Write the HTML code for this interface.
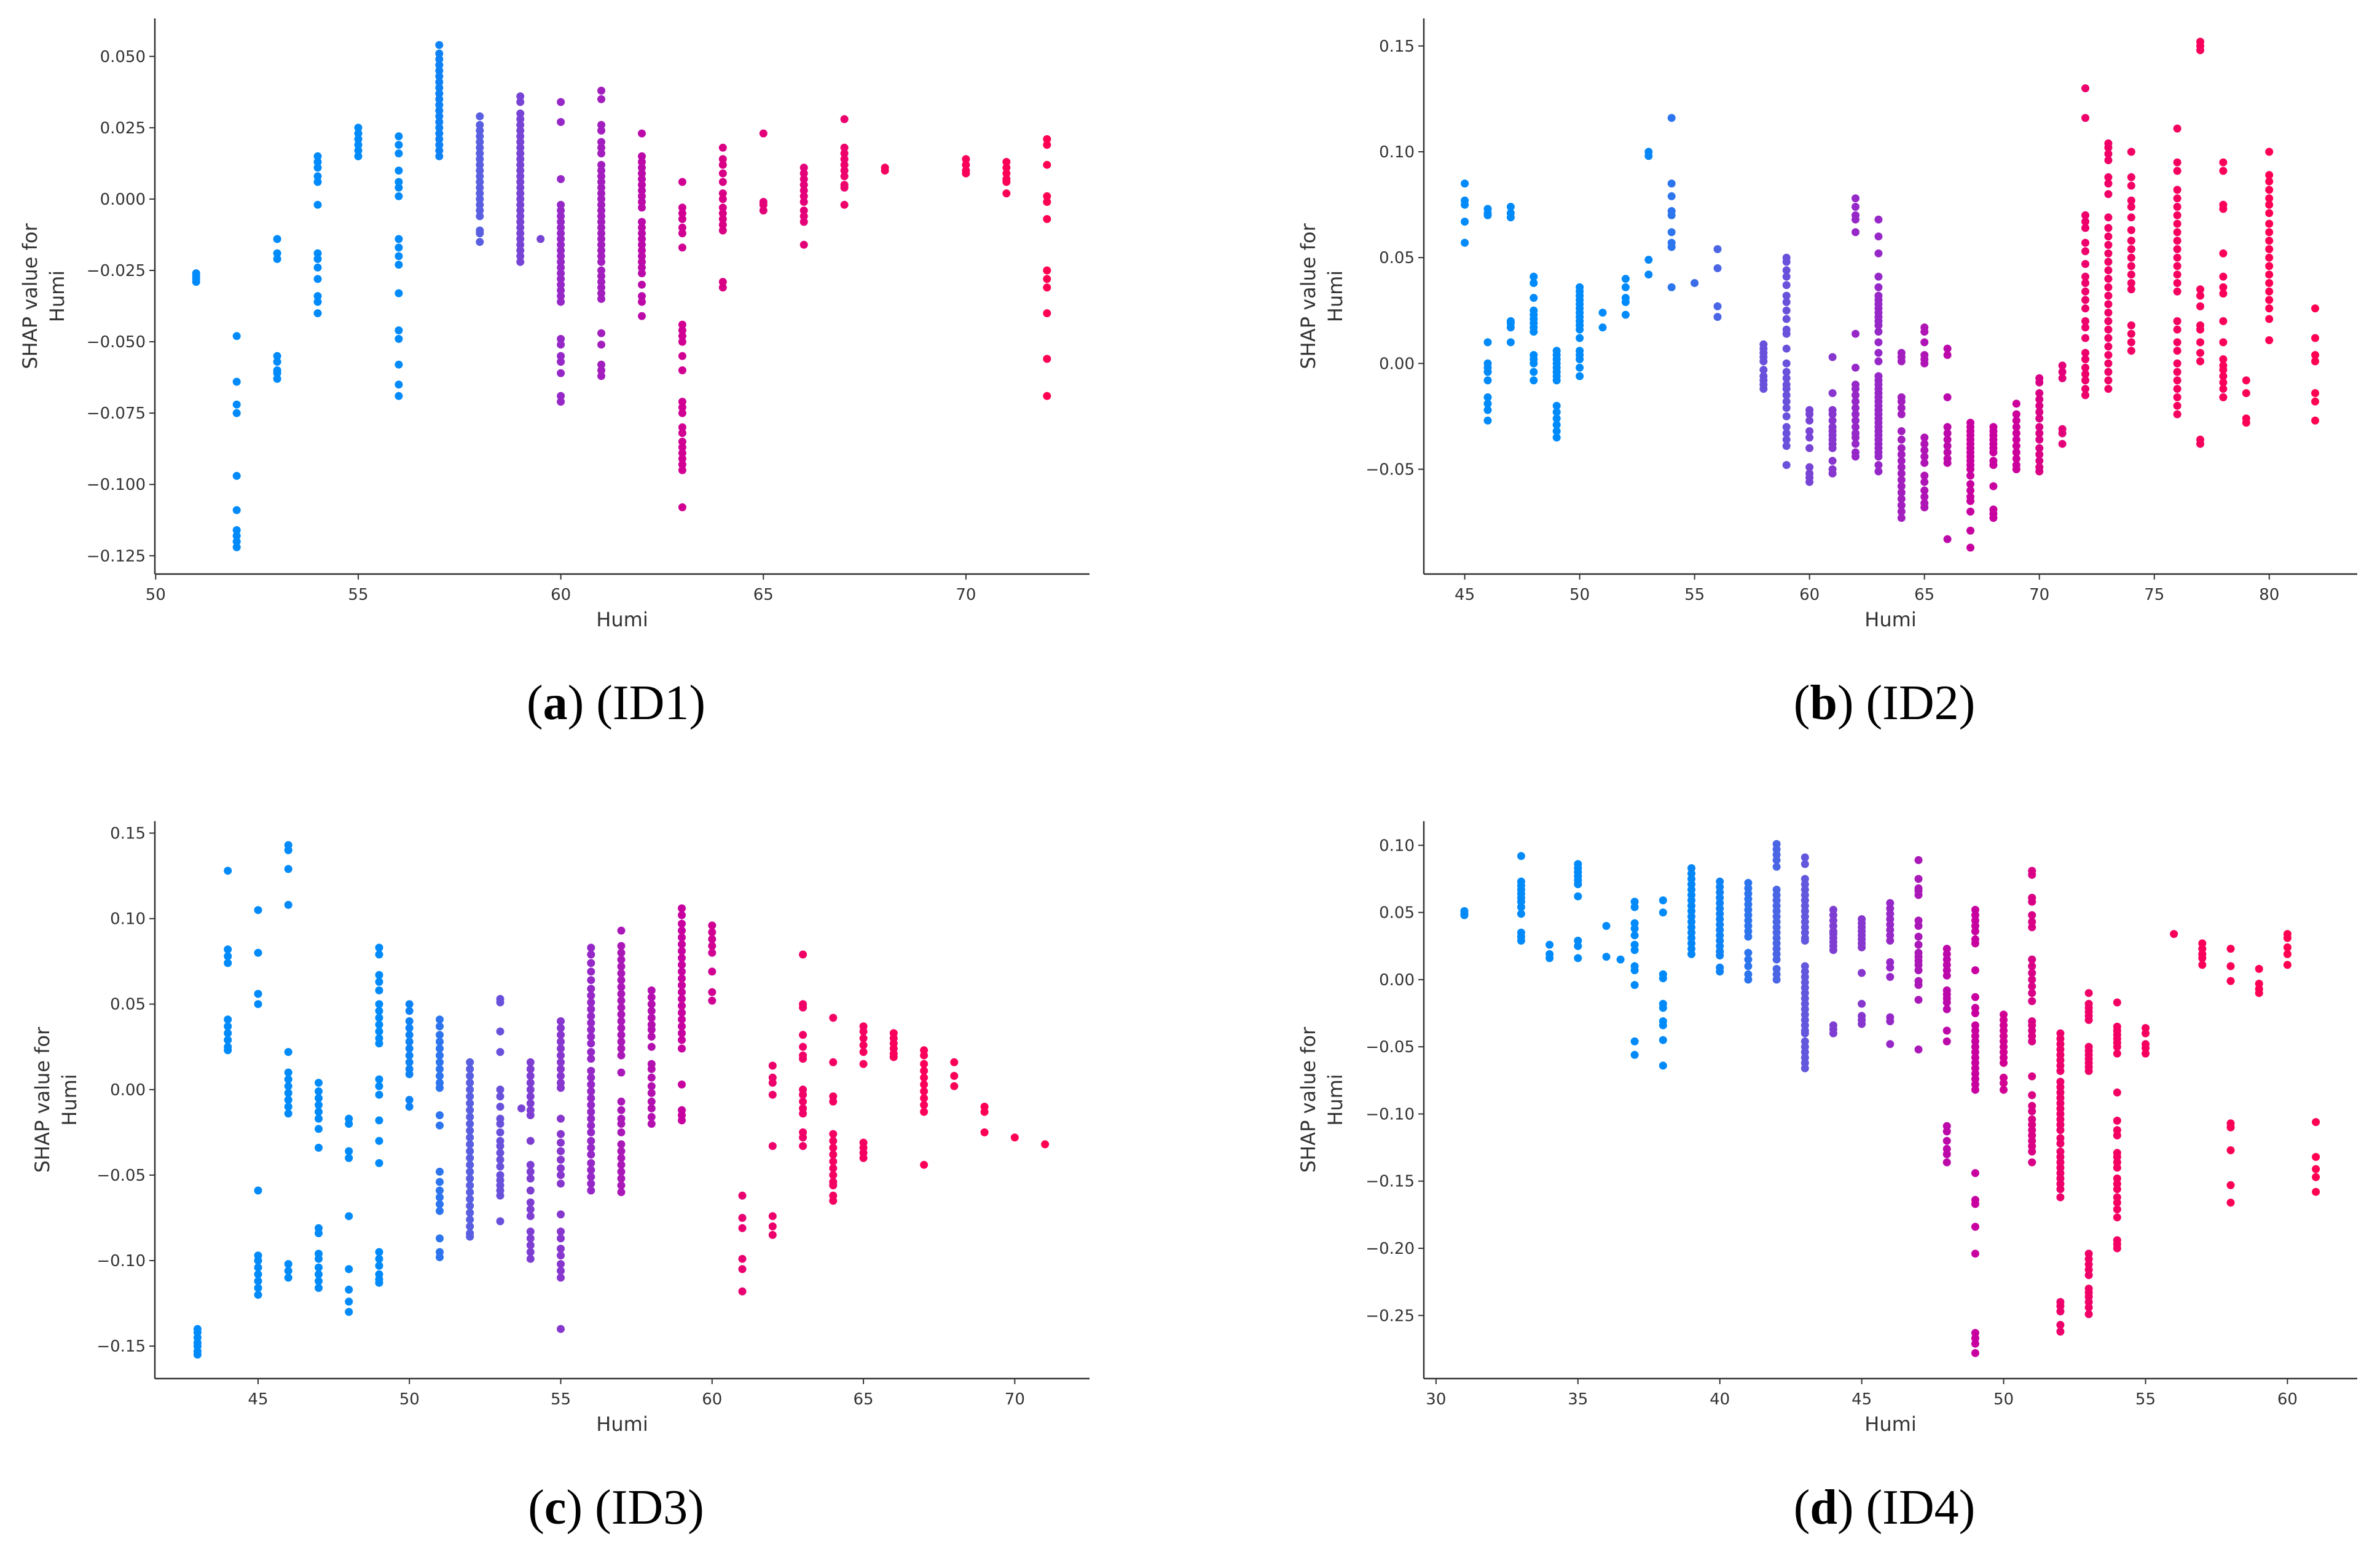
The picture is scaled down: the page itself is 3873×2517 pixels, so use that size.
<!DOCTYPE html>
<html><head><meta charset="utf-8">
<style>
html,body{margin:0;padding:0;background:#fff;}
svg{display:block;}
</style></head>
<body>
<svg id="root" width="3873" height="2517" viewBox="0 0 3873 2517" xmlns="http://www.w3.org/2000/svg"></svg>
<script>
// ---------- Panel (a) ID1 ----------
const xCats_a = [51,52,53,54,55,56,57,58,59,59.5,60,61,62,63,64,65,66,67,68,70,71,72];
const color_a = [0,0,0,0,0,0,0.05,0.3,0.4,0.4,0.5,0.55,0.65,0.75,0.8,0.85,0.85,0.9,0.95,0.97,0.98,1];
const yVals_a = [
[-0.026,-0.027,-0.028,-0.029],
[-0.048,-0.064,-0.072,-0.075,-0.097,-0.109,-0.116,-0.118,-0.120,-0.122],
[-0.014,-0.019,-0.021,-0.055,-0.057,-0.060,-0.061,-0.063],
[0.015,0.013,0.011,0.008,0.006,-0.002,-0.019,-0.021,-0.024,-0.028,-0.034,-0.036,-0.040],
[0.025,0.023,0.021,0.019,0.017,0.015],
[0.022,0.019,0.016,0.010,0.006,0.004,0.001,-0.014,-0.017,-0.020,-0.023,-0.033,-0.046,-0.049,-0.058,-0.065,-0.069],
[0.054,0.051,0.049,0.047,0.045,0.043,0.041,0.039,0.037,0.035,0.033,0.031,0.029,0.027,0.025,0.023,0.021,0.019,0.017,0.015],
[0.029,0.026,0.024,0.022,0.020,0.018,0.016,0.014,0.012,0.010,0.008,0.006,0.004,0.002,0.000,-0.002,-0.004,-0.006,-0.011,-0.012,-0.015],
[0.036,0.034,0.030,0.028,0.026,0.024,0.022,0.020,0.018,0.016,0.014,0.012,0.010,0.008,0.006,0.004,0.002,0.000,-0.002,-0.004,-0.006,-0.008,-0.010,-0.012,-0.014,-0.016,-0.018,-0.020,-0.022],
[-0.014],
[0.034,0.027,0.007,-0.002,-0.004,-0.006,-0.008,-0.010,-0.012,-0.014,-0.016,-0.018,-0.020,-0.022,-0.024,-0.026,-0.028,-0.030,-0.032,-0.034,-0.036,-0.049,-0.051,-0.055,-0.057,-0.061,-0.069,-0.071],
[0.038,0.035,0.026,0.024,0.020,0.018,0.016,0.012,0.010,0.008,0.006,0.004,0.002,0.000,-0.002,-0.004,-0.006,-0.008,-0.010,-0.012,-0.014,-0.016,-0.018,-0.020,-0.022,-0.025,-0.027,-0.029,-0.031,-0.033,-0.035,-0.047,-0.051,-0.058,-0.060,-0.062],
[0.023,0.015,0.013,0.011,0.009,0.007,0.005,0.003,0.001,-0.001,-0.003,-0.008,-0.010,-0.012,-0.014,-0.016,-0.018,-0.020,-0.022,-0.024,-0.026,-0.030,-0.034,-0.036,-0.041],
[0.006,-0.003,-0.005,-0.007,-0.010,-0.012,-0.017,-0.044,-0.046,-0.048,-0.050,-0.055,-0.060,-0.071,-0.073,-0.075,-0.080,-0.082,-0.085,-0.087,-0.089,-0.091,-0.093,-0.095,-0.108],
[0.018,0.014,0.012,0.009,0.006,0.002,0.000,-0.003,-0.005,-0.007,-0.009,-0.011,-0.029,-0.031],
[0.023,-0.001,-0.002,-0.004],
[0.011,0.009,0.007,0.005,0.003,0.001,-0.001,-0.004,-0.006,-0.008,-0.016],
[0.028,0.018,0.016,0.014,0.012,0.010,0.008,0.005,0.004,-0.002],
[0.011,0.010],
[0.014,0.012,0.010,0.009],
[0.013,0.011,0.009,0.007,0.006,0.002],
[0.021,0.019,0.012,0.001,-0.001,-0.007,-0.025,-0.028,-0.031,-0.040,-0.056,-0.069]
];
const xTicks_a = [50,55,60,65,70];
const yTicks_a = [0.050,0.025,0.000,-0.025,-0.050,-0.075,-0.100,-0.125];
const yTickLabels_a = ["0.050","0.025","0.000","\u22120.025","\u22120.050","\u22120.075","\u22120.100","\u22120.125"];

// ---------- Panel (b) ID2 ----------
const xCats_b = [45,46,47,48,49,50,51,52,53,54,55,56,58,59,60,61,62,63,64,65,66,67,68,69,70,71,72,73,74,76,77,78,79,80,82];
const color_b = [0,0,0,0,0,0,0,0,0.02,0.15,0.2,0.25,0.35,0.35,0.4,0.45,0.5,0.5,0.55,0.6,0.65,0.7,0.7,0.72,0.8,0.85,0.9,0.92,0.93,0.95,0.96,0.97,0.98,0.99,1];
const yVals_b = [
[0.085,0.077,0.075,0.067,0.057],
[0.073,0.071,0.070,0.010,0.000,-0.002,-0.004,-0.008,-0.016,-0.019,-0.022,-0.027],
[0.074,0.071,0.069,0.020,0.019,0.017,0.010],
[0.041,0.038,0.031,0.025,0.023,0.021,0.019,0.017,0.015,0.004,0.002,0.000,-0.004,-0.008],
[0.006,0.004,0.002,0.000,-0.002,-0.004,-0.006,-0.008,-0.020,-0.023,-0.026,-0.029,-0.032,-0.035],
[0.036,0.034,0.032,0.030,0.028,0.026,0.024,0.022,0.020,0.018,0.016,0.012,0.006,0.004,0.002,-0.002,-0.006],
[0.024,0.017],
[0.040,0.036,0.031,0.029,0.023],
[0.100,0.098,0.049,0.042],
[0.116,0.085,0.079,0.072,0.070,0.062,0.057,0.055,0.036],
[0.038],
[0.054,0.045,0.027,0.022],
[0.009,0.007,0.005,0.003,0.001,-0.003,-0.006,-0.008,-0.010,-0.012],
[0.050,0.048,0.044,0.041,0.037,0.032,0.029,0.025,0.021,0.016,0.014,0.007,0.000,-0.004,-0.007,-0.010,-0.012,-0.015,-0.018,-0.021,-0.025,-0.030,-0.033,-0.036,-0.039,-0.048],
[-0.022,-0.024,-0.027,-0.032,-0.035,-0.040,-0.049,-0.052,-0.054,-0.056],
[0.003,-0.014,-0.022,-0.024,-0.027,-0.030,-0.032,-0.034,-0.036,-0.038,-0.040,-0.046,-0.050,-0.052],
[0.078,0.074,0.070,0.068,0.062,0.014,-0.002,-0.010,-0.012,-0.015,-0.018,-0.021,-0.024,-0.027,-0.030,-0.033,-0.035,-0.038,-0.042,-0.044],
[0.068,0.060,0.052,0.041,0.036,0.032,0.030,0.028,0.026,0.024,0.022,0.020,0.018,0.015,0.010,0.005,0.001,-0.006,-0.008,-0.010,-0.012,-0.014,-0.016,-0.018,-0.020,-0.022,-0.024,-0.026,-0.028,-0.030,-0.032,-0.034,-0.036,-0.038,-0.040,-0.042,-0.044,-0.048,-0.051],
[0.005,0.003,0.001,-0.016,-0.018,-0.021,-0.024,-0.032,-0.036,-0.040,-0.043,-0.046,-0.049,-0.052,-0.055,-0.058,-0.061,-0.064,-0.067,-0.070,-0.073],
[0.017,0.015,0.010,0.004,0.002,0.000,-0.035,-0.038,-0.041,-0.044,-0.047,-0.053,-0.056,-0.060,-0.063,-0.066,-0.068],
[0.007,0.004,-0.016,-0.030,-0.033,-0.036,-0.039,-0.042,-0.045,-0.047,-0.083],
[-0.028,-0.030,-0.032,-0.034,-0.036,-0.038,-0.040,-0.042,-0.044,-0.046,-0.048,-0.050,-0.053,-0.057,-0.060,-0.063,-0.065,-0.070,-0.079,-0.087],
[-0.030,-0.032,-0.034,-0.036,-0.038,-0.040,-0.042,-0.046,-0.048,-0.058,-0.069,-0.071,-0.073],
[-0.019,-0.024,-0.027,-0.030,-0.033,-0.036,-0.039,-0.042,-0.045,-0.048,-0.050],
[-0.007,-0.009,-0.014,-0.017,-0.020,-0.023,-0.026,-0.030,-0.033,-0.036,-0.040,-0.043,-0.046,-0.049,-0.051],
[-0.001,-0.004,-0.007,-0.031,-0.033,-0.038],
[0.130,0.116,0.070,0.067,0.064,0.057,0.053,0.047,0.041,0.038,0.034,0.030,0.026,0.020,0.017,0.012,0.005,0.002,-0.002,-0.005,-0.008,-0.012,-0.015],
[0.104,0.102,0.099,0.096,0.088,0.085,0.080,0.069,0.064,0.060,0.056,0.052,0.048,0.044,0.040,0.036,0.032,0.028,0.024,0.020,0.016,0.012,0.008,0.004,0.000,-0.004,-0.008,-0.012],
[0.100,0.088,0.084,0.077,0.074,0.069,0.063,0.058,0.054,0.050,0.046,0.042,0.038,0.035,0.018,0.014,0.010,0.006],
[0.111,0.095,0.091,0.082,0.078,0.074,0.070,0.066,0.062,0.058,0.054,0.050,0.046,0.042,0.038,0.034,0.020,0.016,0.010,0.006,0.000,-0.004,-0.008,-0.012,-0.016,-0.020,-0.024],
[0.152,0.150,0.148,0.035,0.032,0.027,0.018,0.016,0.010,0.005,0.001,-0.036,-0.038],
[0.095,0.091,0.075,0.073,0.052,0.041,0.036,0.033,0.020,0.010,0.002,-0.001,-0.003,-0.006,-0.009,-0.012,-0.016],
[-0.008,-0.014,-0.026,-0.028],
[0.100,0.089,0.086,0.082,0.078,0.075,0.071,0.066,0.062,0.058,0.054,0.050,0.046,0.042,0.038,0.034,0.030,0.026,0.021,0.011],
[0.026,0.012,0.004,0.001,-0.014,-0.018,-0.027]
];
const xTicks_b = [45,50,55,60,65,70,75,80];
const yTicks_b = [0.15,0.10,0.05,0.00,-0.05];
const yTickLabels_b = ["0.15","0.10","0.05","0.00","\u22120.05"];

// ---------- Panel (c) ID3 ----------
const xCats_c = [43,44,45,46,47,48,49,50,51,52,53,53.7,54,55,56,57,58,59,60,61,62,63,64,65,66,67,68,69,70,71];
const color_c = [0,0,0,0,0,0,0,0.05,0.15,0.3,0.35,0.4,0.42,0.45,0.5,0.58,0.62,0.7,0.75,0.88,0.9,0.92,0.94,0.95,0.96,0.97,0.98,0.99,1,1];
const yVals_c = [
[-0.140,-0.142,-0.145,-0.148,-0.150,-0.153,-0.155],
[0.128,0.082,0.078,0.074,0.041,0.037,0.033,0.029,0.025,0.023],
[0.105,0.080,0.056,0.050,-0.059,-0.097,-0.100,-0.104,-0.108,-0.112,-0.116,-0.120],
[0.143,0.140,0.129,0.108,0.022,0.010,0.006,0.002,-0.002,-0.006,-0.010,-0.014,-0.102,-0.106,-0.110],
[0.004,-0.001,-0.005,-0.009,-0.013,-0.017,-0.023,-0.034,-0.081,-0.084,-0.096,-0.099,-0.104,-0.108,-0.112,-0.116],
[-0.017,-0.020,-0.036,-0.040,-0.074,-0.105,-0.117,-0.124,-0.130],
[0.083,0.079,0.067,0.063,0.058,0.050,0.046,0.042,0.038,0.034,0.030,0.027,0.006,0.002,-0.003,-0.018,-0.030,-0.043,-0.095,-0.099,-0.103,-0.108,-0.111,-0.113],
[0.050,0.046,0.040,0.036,0.032,0.028,0.024,0.020,0.016,0.012,0.009,-0.006,-0.010],
[0.041,0.037,0.032,0.028,0.024,0.020,0.016,0.012,0.008,0.004,0.001,-0.015,-0.021,-0.048,-0.054,-0.059,-0.063,-0.067,-0.071,-0.087,-0.095,-0.098],
[0.016,0.012,0.008,0.004,0.000,-0.004,-0.008,-0.012,-0.016,-0.020,-0.024,-0.028,-0.032,-0.036,-0.040,-0.044,-0.048,-0.052,-0.056,-0.060,-0.064,-0.068,-0.072,-0.076,-0.080,-0.084,-0.086],
[0.053,0.051,0.034,0.022,0.000,-0.004,-0.010,-0.017,-0.020,-0.025,-0.030,-0.033,-0.037,-0.041,-0.045,-0.050,-0.053,-0.056,-0.059,-0.062,-0.077],
[-0.011],
[0.016,0.012,0.008,0.004,0.000,-0.004,-0.008,-0.012,-0.015,-0.030,-0.044,-0.048,-0.052,-0.059,-0.066,-0.070,-0.074,-0.083,-0.087,-0.091,-0.095,-0.099],
[0.040,0.036,0.032,0.028,0.024,0.020,0.016,0.012,0.008,0.004,0.001,-0.017,-0.026,-0.031,-0.036,-0.041,-0.046,-0.050,-0.055,-0.073,-0.083,-0.087,-0.093,-0.097,-0.102,-0.106,-0.110,-0.140],
[0.083,0.079,0.074,0.069,0.064,0.059,0.055,0.051,0.047,0.043,0.039,0.035,0.031,0.027,0.022,0.018,0.011,0.007,0.003,-0.001,-0.005,-0.009,-0.013,-0.017,-0.021,-0.025,-0.030,-0.034,-0.038,-0.043,-0.047,-0.051,-0.055,-0.059],
[0.093,0.084,0.080,0.076,0.072,0.068,0.064,0.060,0.056,0.052,0.048,0.044,0.040,0.036,0.032,0.028,0.024,0.020,0.010,-0.007,-0.012,-0.017,-0.020,-0.025,-0.032,-0.036,-0.040,-0.044,-0.048,-0.052,-0.056,-0.060],
[0.058,0.054,0.050,0.046,0.042,0.038,0.035,0.031,0.025,0.015,0.012,0.007,0.002,-0.002,-0.007,-0.011,-0.016,-0.020],
[0.106,0.102,0.097,0.093,0.089,0.085,0.081,0.077,0.073,0.069,0.065,0.061,0.057,0.053,0.049,0.045,0.041,0.037,0.033,0.029,0.024,0.003,-0.012,-0.015,-0.018],
[0.096,0.092,0.088,0.084,0.080,0.069,0.057,0.052],
[-0.062,-0.075,-0.081,-0.099,-0.105,-0.118],
[0.014,0.007,0.004,-0.003,-0.033,-0.074,-0.080,-0.085],
[0.079,0.050,0.048,0.032,0.025,0.020,0.018,0.000,-0.003,-0.007,-0.011,-0.014,-0.025,-0.028,-0.033],
[0.042,0.016,-0.004,-0.007,-0.026,-0.030,-0.034,-0.038,-0.042,-0.046,-0.050,-0.054,-0.056,-0.062,-0.065],
[0.037,0.034,0.030,0.026,0.022,0.015,-0.031,-0.034,-0.037,-0.040],
[0.033,0.030,0.027,0.024,0.021,0.019],
[0.023,0.020,0.015,0.011,0.007,0.003,-0.001,-0.005,-0.009,-0.013,-0.044],
[0.016,0.008,0.002],
[-0.010,-0.013,-0.025],
[-0.028],
[-0.032]
];
const xTicks_c = [45,50,55,60,65,70];
const yTicks_c = [0.15,0.10,0.05,0.00,-0.05,-0.10,-0.15];
const yTickLabels_c = ["0.15","0.10","0.05","0.00","\u22120.05","\u22120.10","\u22120.15"];

// ---------- Panel (d) ID4 ----------
const xCats_d = [31,33,34,35,36,36.5,37,38,39,40,41,42,43,44,45,46,47,48,49,50,51,52,53,54,55,56,57,58,59,60,61];
const color_d = [0,0,0,0,0,0,0,0,0.02,0.05,0.15,0.25,0.33,0.42,0.45,0.5,0.58,0.65,0.7,0.75,0.8,0.9,0.92,0.94,0.95,0.96,0.97,0.98,0.99,1,1];
const yVals_d = [
[0.051,0.049,0.048],
[0.092,0.073,0.070,0.067,0.064,0.061,0.058,0.054,0.049,0.035,0.032,0.029],
[0.026,0.019,0.016],
[0.086,0.083,0.080,0.077,0.074,0.071,0.062,0.029,0.025,0.016],
[0.040,0.017],
[0.015],
[0.058,0.054,0.042,0.038,0.033,0.026,0.022,0.010,0.007,-0.004,-0.046,-0.056],
[0.059,0.050,0.004,0.001,-0.018,-0.021,-0.031,-0.034,-0.045,-0.064],
[0.083,0.079,0.075,0.071,0.067,0.063,0.059,0.055,0.051,0.047,0.043,0.039,0.035,0.031,0.027,0.023,0.019],
[0.073,0.069,0.065,0.061,0.057,0.053,0.049,0.045,0.041,0.037,0.033,0.029,0.025,0.021,0.018,0.009,0.006],
[0.072,0.068,0.064,0.060,0.056,0.052,0.048,0.044,0.040,0.036,0.032,0.020,0.015,0.010,0.004,0.000],
[0.101,0.097,0.093,0.089,0.084,0.067,0.063,0.059,0.055,0.051,0.047,0.043,0.039,0.035,0.031,0.027,0.023,0.019,0.015,0.008,0.004,0.000],
[0.091,0.086,0.075,0.071,0.067,0.063,0.059,0.055,0.051,0.047,0.043,0.039,0.035,0.031,0.029,0.010,0.006,0.002,-0.002,-0.006,-0.010,-0.014,-0.018,-0.022,-0.026,-0.030,-0.034,-0.038,-0.040,-0.046,-0.050,-0.054,-0.058,-0.062,-0.066],
[0.052,0.048,0.044,0.040,0.036,0.034,0.031,0.028,0.025,0.022,-0.034,-0.037,-0.040],
[0.045,0.042,0.039,0.036,0.033,0.030,0.027,0.024,0.005,-0.018,-0.027,-0.030,-0.033],
[0.057,0.053,0.049,0.045,0.041,0.037,0.033,0.029,0.013,0.009,0.002,-0.028,-0.031,-0.048],
[0.089,0.075,0.068,0.066,0.063,0.044,0.040,0.032,0.026,0.020,0.017,0.014,0.011,0.007,-0.001,-0.004,-0.015,-0.052],
[0.023,0.019,0.015,0.011,0.007,0.003,-0.008,-0.011,-0.014,-0.017,-0.022,-0.038,-0.046,-0.109,-0.113,-0.120,-0.126,-0.130,-0.136],
[0.052,0.048,0.044,0.040,0.036,0.030,0.027,0.007,-0.013,-0.021,-0.025,-0.034,-0.038,-0.042,-0.046,-0.050,-0.054,-0.058,-0.062,-0.066,-0.070,-0.074,-0.078,-0.082,-0.144,-0.164,-0.167,-0.184,-0.204,-0.263,-0.267,-0.271,-0.278],
[-0.026,-0.030,-0.034,-0.038,-0.042,-0.046,-0.050,-0.054,-0.058,-0.062,-0.073,-0.077,-0.082],
[0.081,0.078,0.061,0.058,0.048,0.043,0.039,0.015,0.010,0.005,0.000,-0.005,-0.010,-0.016,-0.031,-0.034,-0.038,-0.042,-0.046,-0.072,-0.086,-0.094,-0.098,-0.104,-0.108,-0.112,-0.116,-0.120,-0.124,-0.128,-0.136],
[-0.040,-0.044,-0.048,-0.052,-0.056,-0.060,-0.064,-0.068,-0.076,-0.080,-0.084,-0.088,-0.092,-0.096,-0.100,-0.104,-0.108,-0.112,-0.118,-0.122,-0.128,-0.132,-0.136,-0.140,-0.144,-0.148,-0.152,-0.156,-0.162,-0.240,-0.243,-0.247,-0.257,-0.262],
[-0.010,-0.018,-0.021,-0.024,-0.027,-0.030,-0.050,-0.053,-0.056,-0.059,-0.062,-0.065,-0.068,-0.204,-0.208,-0.212,-0.216,-0.220,-0.230,-0.233,-0.236,-0.240,-0.244,-0.249],
[-0.017,-0.035,-0.038,-0.041,-0.044,-0.047,-0.050,-0.055,-0.084,-0.105,-0.112,-0.116,-0.129,-0.132,-0.136,-0.140,-0.148,-0.152,-0.156,-0.162,-0.166,-0.171,-0.177,-0.194,-0.197,-0.200],
[-0.036,-0.040,-0.048,-0.051,-0.055],
[0.034],
[0.027,0.023,0.019,0.016,0.011],
[0.023,0.010,-0.001,-0.107,-0.110,-0.127,-0.153,-0.166],
[0.008,-0.003,-0.007,-0.010],
[0.034,0.031,0.024,0.019,0.011],
[-0.106,-0.132,-0.141,-0.147,-0.158]
];
const xTicks_d = [30,35,40,45,50,55,60];
const yTicks_d = [0.10,0.05,0.00,-0.05,-0.10,-0.15,-0.20,-0.25];
const yTickLabels_d = ["0.10","0.05","0.00","\u22120.05","\u22120.10","\u22120.15","\u22120.20","\u22120.25"];

const captionLetters = ["a","b","c","d"];
const captionIds = ["(ID1)","(ID2)","(ID3)","(ID4)"];

const NS = "http://www.w3.org/2000/svg";
const root = document.getElementById("root");
function mk(tag, attrs, parent){
  const e = document.createElementNS(NS, tag);
  for (const k in attrs) e.setAttribute(k, attrs[k]);
  (parent||root).appendChild(e);
  return e;
}
const stops = [[0,[0,138,250]],[0.3,[90,95,225]],[0.5,[150,40,200]],[0.7,[200,0,160]],[1,[255,0,82]]];
function cmap(t){
  for (let i=1;i<stops.length;i++){
    if (t<=stops[i][0]){
      const a=stops[i-1], b=stops[i];
      const f=(t-a[0])/(b[0]-a[0]);
      const c=a[1].map((v,j)=>Math.round(v+(b[1][j]-v)*f));
      return "rgb("+c.join(",")+")";
    }
  }
  return "rgb(255,0,82)";
}

const panels = [
 {id:"a", L:252, R:1773, T:30, B:934, xmin:49.98, xmax:73.05, ymin:-0.1314, ymax:0.0633, xc:xCats_a, yv:yVals_a, col:color_a, xt:xTicks_a, yt:yTicks_a, ytl:yTickLabels_a, labX:49},
 {id:"b", L:2317, R:3836, T:30, B:934, xmin:43.22, xmax:83.83, ymin:-0.0995, ymax:0.163, xc:xCats_b, yv:yVals_b, col:color_b, xt:xTicks_b, yt:yTicks_b, ytl:yTickLabels_b, labX:2129},
 {id:"c", L:252, R:1773, T:1336, B:2243, xmin:41.59, xmax:72.47, ymin:-0.169, ymax:0.157, xc:xCats_c, yv:yVals_c, col:color_c, xt:xTicks_c, yt:yTicks_c, ytl:yTickLabels_c, labX:69},
 {id:"d", L:2317, R:3836, T:1336, B:2243, xmin:29.57, xmax:62.46, ymin:-0.297, ymax:0.118, xc:xCats_d, yv:yVals_d, col:color_d, xt:xTicks_d, yt:yTicks_d, ytl:yTickLabels_d, labX:2129}
];

panels.forEach((p, pi) => {
  const g = mk("g", {});
  
  
  const sx = v => p.L + (v - p.xmin) / (p.xmax - p.xmin) * (p.R - p.L);
  const sy = v => p.B - (v - p.ymin) / (p.ymax - p.ymin) * (p.B - p.T);
  const pts = mk("g", {}, g);
  
  
  p.xc.forEach((xv, i) => {
    const fill = cmap(p.col[i]);
    p.yv[i].forEach(yv => {
      const c = mk("circle", {cx: sx(xv).toFixed(1), cy: sy(yv).toFixed(1), r: 6.5, fill: fill}, pts);
      
      
    });
  });
  const ya = mk("line", {x1:p.L, y1:p.T, x2:p.L, y2:p.B, stroke:"#333", "stroke-width":2.5}, g);
  
  
  const xa = mk("line", {x1:p.L, y1:p.B, x2:p.R, y2:p.B, stroke:"#333", "stroke-width":2.5}, g);
  
  
  p.xt.forEach(t => {
    const x = sx(t);
    mk("line", {x1:x, y1:p.B, x2:x, y2:p.B+9, stroke:"#333", "stroke-width":2}, g);
    const tx = mk("text", {x:x, y:p.B+42, "text-anchor":"middle", "font-family":"DejaVu Sans, Liberation Sans, sans-serif", "font-size":26, fill:"#333"}, g);
    tx.textContent = t;
    
    
  });
  p.yt.forEach((t, i) => {
    const y = sy(t);
    mk("line", {x1:p.L-9, y1:y, x2:p.L, y2:y, stroke:"#333", "stroke-width":2}, g);
    const tx = mk("text", {x:p.L-15, y:y+9, "text-anchor":"end", "font-family":"DejaVu Sans, Liberation Sans, sans-serif", "font-size":26, fill:"#333"}, g);
    tx.textContent = p.ytl[i];
    
    
  });
  const xl = mk("text", {x:(p.L+p.R)/2, y:p.B+85, "text-anchor":"middle", "font-family":"DejaVu Sans, Liberation Sans, sans-serif", "font-size":32, fill:"#333"}, g);
  xl.textContent = "Humi";
  
  
  const cy = (p.T + p.B) / 2;
  const yl = mk("text", {transform:"translate(" + (p.labX+11) + "," + cy + ") rotate(-90)", "text-anchor":"middle", "font-family":"DejaVu Sans, Liberation Sans, sans-serif", "font-size":32, fill:"#333"}, g);
  
  
  const t1 = mk("tspan", {x:0, y:0}, yl); t1.textContent = "SHAP value for";
  const t2 = mk("tspan", {x:0, y:44}, yl); t2.textContent = "Humi";
  const cap = mk("text", {x:(p.L+p.R)/2 - 10, y:p.B + 236, "text-anchor":"middle", "font-family":"Liberation Serif, serif", "font-size":80, fill:"#000"}, g);
  
  
  const s1 = mk("tspan", {}, cap); s1.textContent = "(";
  const s2 = mk("tspan", {"font-weight":"bold"}, cap); s2.textContent = captionLetters[pi];
  const s3 = mk("tspan", {}, cap); s3.textContent = ") " + captionIds[pi];
});
</script>
</body></html>
